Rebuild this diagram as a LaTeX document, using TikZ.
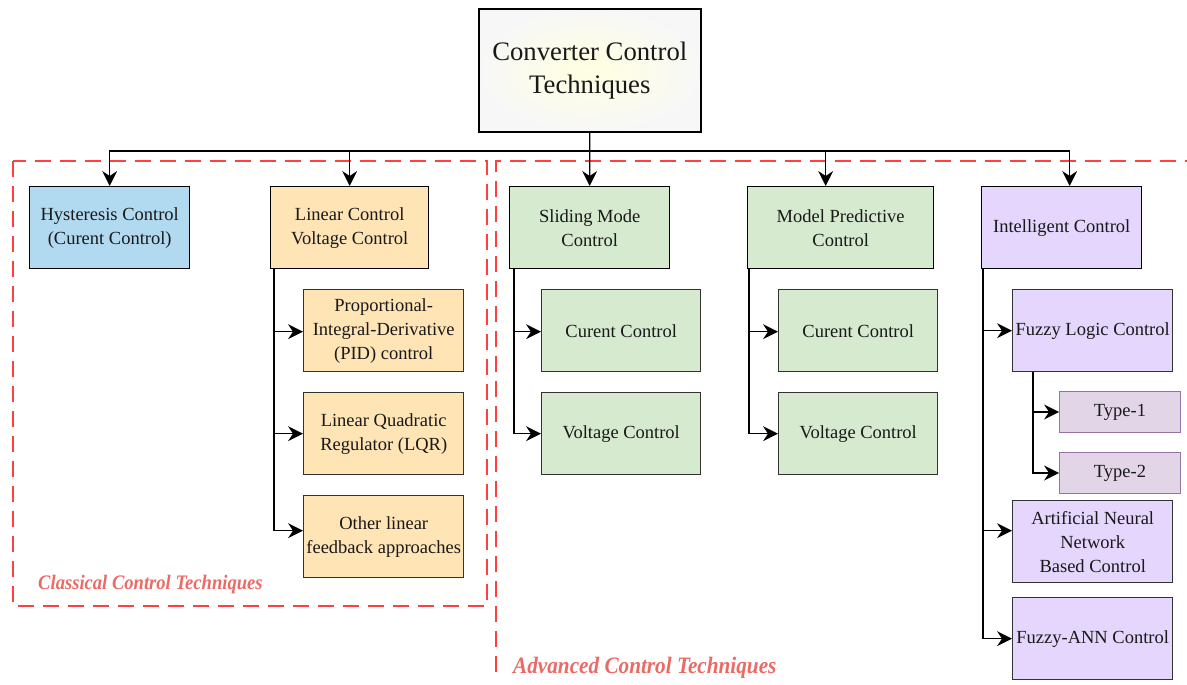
\documentclass[tikz,border=0pt]{standalone}
\usepackage{fontspec}
\usepackage{graphicx}
\setmainfont{Liberation Serif}
\usetikzlibrary{arrows.meta}

\definecolor{hysblue}{HTML}{B1D9EF}
\definecolor{linorange}{HTML}{FFE4B5}
\definecolor{advgreen}{HTML}{D5EACF}
\definecolor{intpurple}{HTML}{E4D6FC}
\definecolor{typefill}{HTML}{E1D5E7}
\definecolor{typeedge}{HTML}{9673A6}
\definecolor{groupred}{HTML}{FF4040}
\definecolor{grouptext}{HTML}{EA6B66}
\definecolor{edgegray}{HTML}{333333}

\newcommand\boxfont{\fontsize{18.5}{24}\selectfont}
\newcommand\rootfont{\fontsize{26.7}{33}\selectfont}

\tikzset{
  box/.style={draw=black, line width=1.4pt, inner sep=2pt, align=center,
              anchor=north west, font=\boxfont, text=black!90},
  mainbox/.style={box, minimum height=82pt},
  subbox/.style={box, draw=edgegray, minimum width=160pt, minimum height=82pt},
  typebox/.style={box, draw=typeedge, line width=1pt, fill=typefill,
                  minimum width=121pt, minimum height=41pt},
  conn/.style={draw=black, line width=1.3pt},
  tipshape/.tip={Stealth[length=15pt, width=15pt, inset=5pt, line width=0pt]},
  arr/.style={conn, -tipshape},
  groupline/.style={draw=groupred, line width=1.8pt, dash pattern=on 16pt off 9pt},
  grouplabel/.style={text=grouptext, inner sep=0pt}
}

\begin{document}
\begin{tikzpicture}[x=1pt, y=-1pt]
\useasboundingbox (0,0) rectangle (1187,685);

% group frames
\draw[groupline] (13,161) rectangle (487,606);
\draw[groupline] (496,672) -- (496,161) -- (1195,161);

% root
\node[box, line width=1.6pt, shading=radial, inner color=yellow!12, outer color=black!3,
      minimum width=222pt, minimum height=123pt, font=\rootfont] (root) at (478,8)
      {Converter Control\\Techniques};

% first level
\node[mainbox, fill=hysblue, minimum width=160pt] (hys) at (29,186) {Hysteresis Control\\(Curent Control)};
\node[mainbox, fill=linorange, minimum width=158pt] (lin) at (270,186) {Linear Control\\Voltage Control};
\node[mainbox, fill=advgreen, minimum width=160pt] (sm) at (509,186) {Sliding Mode\\Control};
\node[mainbox, fill=advgreen, minimum width=186pt] (mpc) at (747,186) {Model Predictive\\Control};
\node[mainbox, fill=intpurple, minimum width=160pt] (ic) at (981,186) {Intelligent Control};

% linear control branch
\node[subbox, fill=linorange] (pid) at (303,289) {Proportional-\\Integral-Derivative\\(PID) control};
\node[subbox, fill=linorange] (lqr) at (303,392) {Linear Quadratic\\Regulator (LQR)};
\node[subbox, fill=linorange] (oth) at (303,495) {Other linear\\feedback approaches};

% sliding mode branch
\node[subbox, fill=advgreen, minimum width=159pt] (smc) at (541,289) {Curent Control};
\node[subbox, fill=advgreen, minimum width=159pt] (smv) at (541,392) {Voltage Control};

% model predictive branch
\node[subbox, fill=advgreen, minimum width=159pt] (mpcc) at (778,289) {Curent Control};
\node[subbox, fill=advgreen, minimum width=159pt] (mpcv) at (778,392) {Voltage Control};

% intelligent branch
\node[subbox, fill=intpurple] (flc) at (1012,289) {Fuzzy Logic Control};
\node[typebox] (t1) at (1059,391) {Type-1};
\node[typebox] (t2) at (1059,452) {Type-2};
\node[subbox, fill=intpurple] (ann) at (1012,500) {Artificial Neural\\Network\\Based Control};
\node[subbox, fill=intpurple] (fann) at (1012,597) {Fuzzy-ANN Control};

% top-level distribution bus
\coordinate (bus) at (589,151);
\draw[arr] (root.south) -- (sm.north);
\draw[arr] (bus) -| (hys.north);
\draw[arr] (bus) -| (lin.north);
\draw[arr] (bus) -| ([xshift=-15pt]mpc.north);
\draw[arr] (bus) -| ([xshift=8pt]ic.north);

% branch trunks
\draw[arr] ([xshift=4pt]lin.south west) |- ([yshift=-1pt]pid.west);
\draw[arr] ([xshift=4pt]lin.south west) |- (lqr.west);
\draw[arr] ([xshift=4pt]lin.south west) |- ([yshift=6pt]oth.west);

\draw[arr] ([xshift=5pt]sm.south west) |- ([yshift=-1pt]smc.west);
\draw[arr] ([xshift=5pt]sm.south west) |- (smv.west);

\draw[arr] ([xshift=2pt]mpc.south west) |- ([yshift=-1pt]mpcc.west);
\draw[arr] ([xshift=2pt]mpc.south west) |- (mpcv.west);

\draw[arr] ([xshift=2pt]ic.south west) |- (flc.west);
\draw[arr] ([xshift=2pt]ic.south west) |- ([yshift=11pt]ann.west);
\draw[arr] ([xshift=2pt]ic.south west) |- (fann.west);

\draw[arr, line width=1.9pt] ([xshift=21pt]flc.south west) |- (t1.west);
\draw[arr, line width=1.9pt] ([xshift=21pt]flc.south west) |- (t2.west);

% group labels
\node[grouplabel, anchor=west] (cl) at (38,585)
  {\fontsize{18.4}{20}\selectfont\bfseries\itshape\scalebox{1.01}[1.12]{Classical Control Techniques}};
\node[grouplabel, anchor=west] (al) at (513,668)
  {\fontsize{21}{23}\selectfont\bfseries\itshape\scalebox{1.01}[1.12]{Advanced Control Techniques}};
\end{tikzpicture}
\end{document}
